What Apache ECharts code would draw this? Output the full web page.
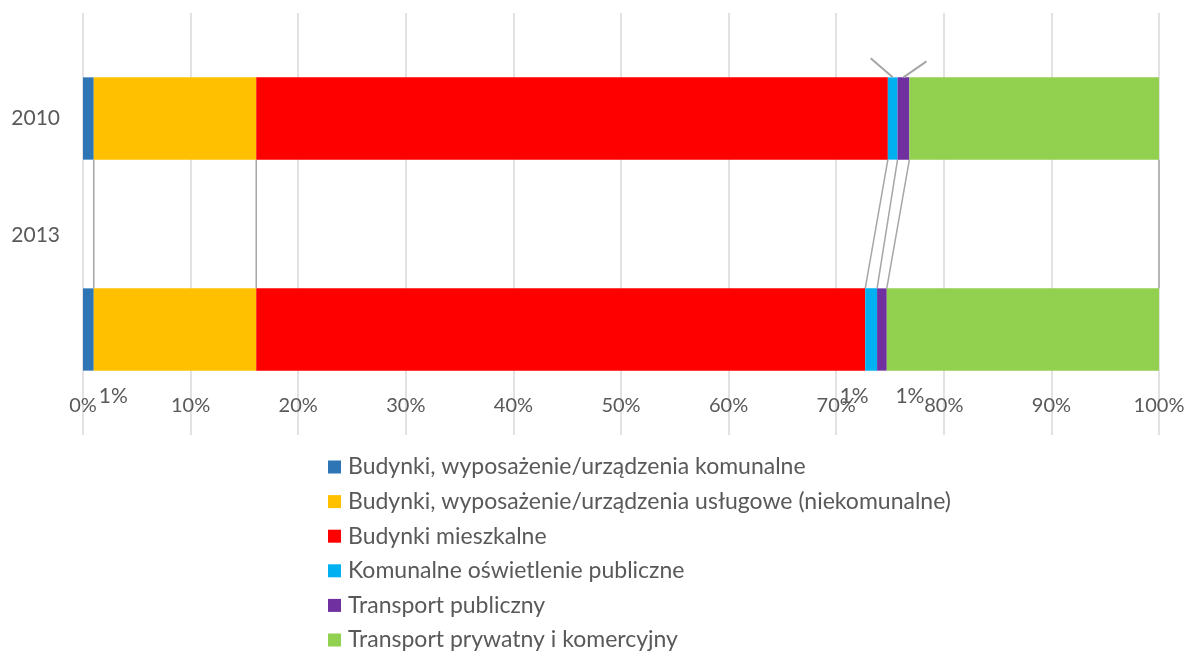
<!DOCTYPE html>
<html>
<head>
<meta charset="utf-8">
<script src="https://cdn.jsdelivr.net/npm/echarts@6/dist/echarts.min.js"></script>
<style>
html,body{margin:0;padding:0;background:#fff;}
#c{width:1190px;height:652px;}
</style>
</head>
<body>
<div id="c"></div>
<script>
// ---- data ----
var categories = ['2010', '2013'];
var seriesNames = [
  'Budynki, wyposażenie/urządzenia komunalne',
  'Budynki, wyposażenie/urządzenia usługowe (niekomunalne)',
  'Budynki mieszkalne',
  'Komunalne oświetlenie publiczne',
  'Transport publiczny',
  'Transport prywatny i komercyjny'
];
var komunalne   = [1.0, 1.0];
var uslugowe    = [15.1, 15.1];
var mieszkalne  = [58.7, 56.6];
var oswietlenie = [0.9, 1.1];
var publiczny   = [1.1, 0.9];
var prywatny    = [23.2, 25.3];
var xTicks = [0, 10, 20, 30, 40, 50, 60, 70, 80, 90, 100];

var colors = ['#2E75B6', '#FFC000', '#FF0000', '#00B0F0', '#7030A0', '#92D050'];
var FONT = 'Lato';
var TXT = '#595959';

var seriesValues = [komunalne, uslugowe, mieszkalne, oswietlenie, publiczny, prywatny];

// labels shown for small segments of the 2013 bar (series index -> offset)
var labelOffsets = { 0: [25, 10], 3: [-17, 10], 4: [28, 10] };

var BAR_FRAC = 0.39;

// cumulative ends per series per category
var cum = seriesValues.map(function (_, s) {
  return categories.map(function (_, c) {
    var t = 0;
    for (var k = 0; k <= s; k++) t += seriesValues[k][c];
    return t;
  });
});

var barSeries = seriesValues.map(function (vals, s) {
  return {
    name: seriesNames[s],
    type: 'bar',
    stack: 'total',
    xAxisIndex: 0,
    yAxisIndex: 0,
    barWidth: (BAR_FRAC * 100) + '%',
    itemStyle: { color: colors[s] },
    data: vals.map(function (v, c) {
      if (c === 1 && labelOffsets[s]) {
        return {
          value: v,
          label: {
            show: true,
            position: 'bottom',
            distance: 5,
            offset: labelOffsets[s],
            formatter: function (p) { return Math.round(p.value) + '%'; },
            fontFamily: FONT,
            fontSize: 21,
            color: TXT
          }
        };
      }
      return v;
    })
  };
});

// series lines connecting segment ends between the two bars
var seriesLines = {
  type: 'custom',
  name: 'seriesLines',
  xAxisIndex: 0,
  yAxisIndex: 0,
  silent: true,
  z: 1,
  encode: { x: [0, 1], y: 2 },
  data: cum.map(function (c) { return [c[0], c[1], 0]; }),
  renderItem: function (params, api) {
    var a = api.coord([api.value(0), 0]);
    var b = api.coord([api.value(1), 1]);
    var half = api.size([0, 1])[1] * BAR_FRAC / 2;
    return {
      type: 'line',
      shape: { x1: a[0], y1: a[1] + half, x2: b[0], y2: b[1] - half },
      style: { stroke: '#A6A6A6', lineWidth: 1.5 }
    };
  }
};

// leader lines of the 2010 small-segment labels
var leaderOffsets = { 3: [-22, -19], 4: [23, -16] };
var leaderData = [];
[3, 4].forEach(function (s) {
  var start = cum[s][0] - seriesValues[s][0];
  leaderData.push([start, cum[s][0], 0, s]);
});
var leaderLines = {
  type: 'custom',
  name: 'leaders',
  xAxisIndex: 0,
  yAxisIndex: 0,
  silent: true,
  z: 3,
  encode: { x: [0, 1], y: 2 },
  data: leaderData,
  renderItem: function (params, api) {
    var mid = (api.value(0) + api.value(1)) / 2;
    var p = api.coord([mid, 0]);
    var half = api.size([0, 1])[1] * BAR_FRAC / 2;
    var off = leaderOffsets[api.value(3)];
    var y0 = p[1] - half;
    return {
      type: 'line',
      shape: { x1: p[0], y1: y0, x2: p[0] + off[0], y2: y0 + off[1] },
      style: { stroke: '#A6A6A6', lineWidth: 2 }
    };
  }
};

var chart = echarts.init(document.getElementById('c'), null, { renderer: 'canvas' });
chart.setOption({
  animation: false,
  backgroundColor: '#fff',
  grid: [
    { left: 83, right: 31, top: 13, bottom: 217 },
    { left: 83, right: 31, top: 59.5, height: 234 }
  ],
  xAxis: [
    {
      gridIndex: 0,
      type: 'value',
      min: xTicks[0],
      max: xTicks[xTicks.length - 1],
      interval: xTicks[1] - xTicks[0],
      axisLine: { show: false },
      axisTick: { show: false },
      splitLine: { show: true, lineStyle: { color: '#D9D9D9', width: 1.5 } },
      axisLabel: {
        margin: -29,
        verticalAlign: 'middle',
        fontFamily: FONT,
        fontSize: 20,
        color: TXT,
        formatter: function (v) { return v + '%'; }
      }
    },
    {
      gridIndex: 1,
      type: 'value',
      show: false,
      min: 0,
      max: 100
    }
  ],
  yAxis: [
    {
      gridIndex: 0,
      type: 'category',
      inverse: true,
      data: categories,
      axisLine: { show: false },
      axisTick: { show: false },
      axisLabel: { show: false },
      splitLine: { show: false }
    },
    {
      gridIndex: 1,
      type: 'category',
      inverse: true,
      data: categories,
      axisLine: { show: false },
      axisTick: { show: false },
      splitLine: { show: false },
      axisLabel: {
        margin: 23,
        fontFamily: FONT,
        fontSize: 21,
        color: TXT
      }
    }
  ],
  legend: {
    data: seriesNames,
    orient: 'vertical',
    left: 328,
    top: 455.5,
    padding: 0,
    itemWidth: 13,
    itemHeight: 13,
    itemGap: 11.6,
    icon: 'rect',
    selectedMode: false,
    textStyle: {
      fontFamily: FONT,
      fontSize: 23,
      lineHeight: 23,
      color: TXT,
      padding: [0, 0, 0, 2]
    }
  },
  series: barSeries.concat([seriesLines, leaderLines])
});
</script>
</body>
</html>
